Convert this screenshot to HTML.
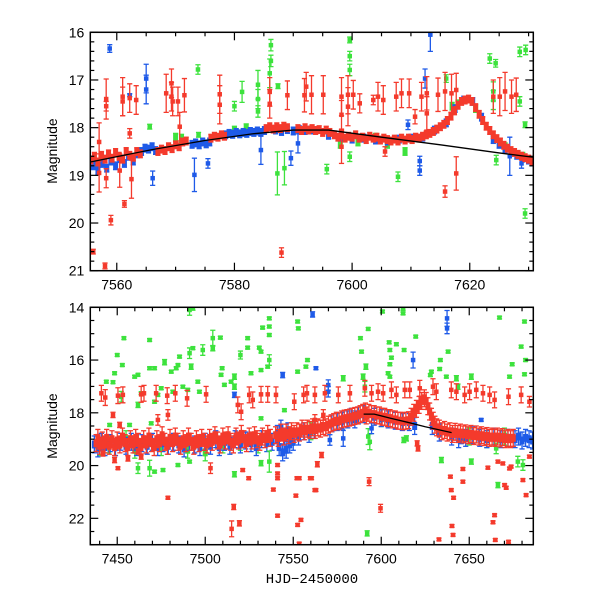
<!DOCTYPE html>
<html><head><meta charset="utf-8"><style>
html,body{margin:0;padding:0;background:#fff;}
svg{display:block;font-family:"Liberation Sans",sans-serif;}
</style></head><body>
<svg id="chart" width="600" height="600" viewBox="0 0 600 600" xmlns="http://www.w3.org/2000/svg">
<rect width="600" height="600" fill="#fff"/>
<g id="top-panel"></g>
<g id="bottom-panel"></g>
<text transform="translate(57,151) rotate(-90)" text-anchor="middle" font-size="14">Magnitude</text>
<text transform="translate(57,426) rotate(-90)" text-anchor="middle" font-size="14">Magnitude</text>
<text x="312" y="583" text-anchor="middle" font-size="14" font-family="Liberation Mono, monospace">HJD−2450000</text>
</svg>
<script>
// ---------- TOP PANEL DATA ----------
const topModel = [[7555.5,18.72],[7566,18.46],[7575,18.27],[7583,18.13],[7590,18.05],[7596,18.05],[7605,18.2],[7615,18.36],[7625,18.53],[7630.8,18.62]];
const topGreenBase = [[7570,18.2],[7571,18.22],[7580,18.05],[7582,18.0],[7598,18.35],[7601,18.3],[7604,18.2],[7606,18.35],[7609,18.5],[7617,17.55],[7618,17.5],[7621,17.6],[7626,18.4],[7629,18.6]];
const topBlueBase = [[7556,18.8],[7556.8,18.9],[7557.5,18.75],[7558.3,18.85],[7559,18.7],[7559.8,18.8],[7560.5,18.65],[7561.3,18.75],[7562,18.6],[7562.8,18.7],[7563.5,18.55],[7564.2,18.5],[7564.8,18.43],[7565.4,18.45],[7566,18.4],[7566.6,18.48],
[7572.8,18.35],[7573.4,18.32],[7574,18.36],[7574.6,18.3],[7575.2,18.34],[7575.8,18.3],
[7578.5,18.15],[7579.1,18.12],[7579.7,18.14],[7580.3,18.1],[7580.9,18.13],[7581.5,18.1],[7582.1,18.12],[7582.7,18.08],[7583.3,18.1],[7583.9,18.07],[7584.5,18.1],[7585.1,18.06],[7587,18.05],[7588,18.08],[7589,18.04],[7590,18.07],[7591,18.04],[7592,18.06],[7593,18.05],
[7596,18.16],[7598,18.2],[7600,18.24],[7602,18.22],[7604,18.26],[7606,18.28],[7608,18.24],[7610,18.22],[7612,18.2],[7614,18.05],[7616,17.9],[7617.5,17.6],[7619,17.42],[7620.5,17.45],[7622,17.78],
[7624,18.25],[7625,18.35],[7626,18.45],[7627,18.52],[7628,18.58],[7629,18.64],[7630,18.68],[7630.6,18.72]];
const topRedBase = [[7555.6,18.68],[7556.2,18.6],[7556.8,18.72],[7557.4,18.58],[7558,18.66],[7558.6,18.55],[7559.2,18.64],[7559.8,18.52],[7560.4,18.6],[7561,18.66],[7561.6,18.5],[7562.2,18.58],[7562.8,18.62],[7563.4,18.5],[7564,18.55],
[7567,18.5],[7567.6,18.45],[7568.2,18.48],[7568.8,18.4],[7569.4,18.44],[7570,18.36],[7570.6,18.4],[7571.2,18.3],[7571.8,18.28],
[7576,18.22],[7576.6,18.18],[7577.2,18.2],[7577.8,18.15],[7578.3,18.18],
[7585.4,18.02],[7586,17.98],[7586.6,18.03],[7587.2,17.98],[7587.8,18.02],[7588.4,17.97],[7589,18.0],
[7590.8,18.02],[7591.4,18.06],[7592,18.0],[7592.6,18.05],[7593.2,18.02],[7593.8,18.06],[7594.4,18.04],[7595,18.1],[7595.6,18.05],[7596.2,18.1],
[7597,18.15],[7597.6,18.2],[7598.2,18.15],[7598.8,18.22],[7599.4,18.18],[7600,18.2],[7600.6,18.15],[7601.2,18.22],[7601.8,18.2],[7602.4,18.25],[7603,18.18],[7603.6,18.22],[7604.2,18.2],[7604.8,18.26],[7605.4,18.22],[7606,18.25],[7606.6,18.28],[7607.2,18.24],[7607.8,18.28],[7608.4,18.22],[7609,18.26],[7609.6,18.22],[7610.2,18.25],[7610.8,18.2],[7611.4,18.22],[7612,18.18],[7612.6,18.15],[7613.2,18.12],[7613.8,18.08],[7614.4,18.03],[7615,17.98],[7615.6,17.93],[7616.2,17.85],[7616.8,17.76],[7617.4,17.65],[7618,17.53],[7618.6,17.45],[7619.2,17.42],[7619.8,17.4],[7620.4,17.45],[7621,17.58],[7621.6,17.72],[7622.2,17.85],[7622.8,17.97],[7623.4,18.06],[7624,18.15],[7624.6,18.23],[7625.2,18.3],[7625.8,18.37],[7626.4,18.43],[7627,18.48],[7627.6,18.52],[7628.2,18.56],[7628.8,18.6],[7629.4,18.63],[7630,18.66],[7630.6,18.7]];
const topGreenOut = [[7573.8,16.78,0.1],[7580,17.55,0.1],[7581.3,17.25,0.22],[7584,17.1,0.3],[7584,17.4,0.2],[7584,17.66,0.12],[7586.2,16.27,0.12],[7586.2,16.6,0.12],[7586,16.86,0.3],[7587.4,17.13,0.05],[7587.3,18.96,0.45],[7588.5,18.85,0.35],[7565.6,17.98,0.05],[7573.9,18.15,0.05],
[7599.6,16.16,0.06],[7599.6,16.5,0.1],[7599.6,16.79,0.12],[7623.4,16.55,0.1],[7624.4,16.65,0.08],[7628.5,16.41,0.1],[7629.5,16.37,0.1],[7624,17.24,0.2],[7624,17.42,0.2],[7616,16.97,0.08],[7629.4,17.94,0.06],[7628.5,17.45,0.1],[7595.7,18.87,0.1],[7607.8,19.03,0.1],[7629.4,19.8,0.1],[7624.5,18.68,0.1],[7599.6,18.61,0.1]];
const topBlueOut = [[7558.8,16.34,0.08],[7565,16.97,0.3],[7565,17.2,0.3],[7562.2,17.32,0.03],[7566.1,19.06,0.15],[7573.2,18.99,0.35],[7575.5,18.75,0.1],[7584.5,18.47,0.3],[7589.6,18.64,0.15],[7590.8,18.33,0.2],
[7613.3,16.05,0.35],[7612.4,16.97,0.2],[7611.5,18.7,0.1],[7611.5,18.9,0.1],[7609.5,17.94,0.1],[7626.8,18.6,0.4],[7628.8,18.75,0.1]];
const topRedOut = [[7558.2,17.4,0.42],[7558.2,17.55,0.1],[7561,17.35,0.4],[7561,17.45,0.3],[7562.2,17.38,0.3],[7563.3,17.42,0.3],[7568.4,17.28,0.4],[7569.3,17.07,0.3],[7569.3,17.35,0.3],[7569.5,17.45,0.3],[7570.4,17.45,0.3],[7571.5,17.32,0.35],[7570.7,17.98,0.3],[7577.5,17.3,0.4],[7577.5,17.52,0.4],[7586,17.25,0.3],[7586,17.5,0.3],[7589,17.32,0.3],[7591.9,17.32,0.35],[7592.2,17.14,0.3],
[7557,18.3,0.4],[7557,18.95,0.4],[7558.2,19.06,0.2],[7561.3,19.6,0.07],[7559,19.94,0.1],[7556,20.6,0.05],[7558,20.9,0.06],[7588,20.62,0.1],[7562.5,19.08,0.4],[7562.2,18.12,0.1],[7560.5,18.9,0.35],
[7593.1,17.31,0.4],[7595.1,17.31,0.4],[7598.2,17.35,0.4],[7598.2,17.73,0.3],[7599.3,17.31,0.4],[7599.3,17.56,0.4],[7600.2,17.31,0.3],[7601.3,17.49,0.2],[7603.6,17.42,0.1],[7604.4,17.35,0.3],[7605.3,17.42,0.3],[7607.5,17.35,0.3],[7608.4,17.28,0.3],[7609.7,17.28,0.3],[7610.7,17.77,0.15],[7611.8,17.35,0.3],[7612.7,17.28,0.35],[7612.7,17.7,0.35],[7614.6,17.31,0.35],[7615.8,17.24,0.4],[7616.9,17.28,0.4],[7617.7,17.21,0.35],[7624,17.35,0.35],[7625.1,17.35,0.4],[7626,17.24,0.4],[7627.1,17.35,0.35],[7627.9,17.31,0.35],
[7598.2,18.4,0.35],[7615.8,19.34,0.12],[7617.7,18.96,0.35],[7605.6,18.5,0.1]];

// ---------- BOTTOM PANEL DATA ----------
const botModel = [[7590,18.05],[7596,18.05],[7605,18.2],[7615,18.36],[7625,18.53],[7640,18.75]];
const botGreenBase = [[7440,19.3],[7445,19.2],[7460,19.4],[7475,19.3],[7490,19.4],[7510,19.2],[7530,19.2],[7560,18.7],[7600,18.2],[7650,18.9],[7660,19.0],[7670,18.9],[7455,19.0],[7500,19.5],[7520,19.1]];
const botGreenOut = [[7491.1,14.1,0.2],[7493,14.01,0.1],[7453.8,15.17,0.05],[7468.4,15.24,0.05],[7450,15.81,0.05],[7452.9,16.19,0.05],[7448.5,16.5,0.05],[7443.8,16.82,0.05],[7447.6,16.84,0.05],[7461.8,16.56,0.05],[7468.4,16.31,0.05],[7471.2,16.31,0.05],[7476.9,16.08,0.1],[7480.7,16.44,0.05],[7483.5,16.31,0.05],[7484.5,16.19,0.05],[7485.4,15.87,0.05],[7491.1,15.74,0.2],[7493,15.55,0.05],[7492,16.25,0.1],[7498.6,15.62,0.2],[7504.3,15.17,0.3],[7504.3,15.55,0.1],[7508.6,15.15,0.05],[7509.6,16.31,0.05],[7520,15.81,0.15],[7524.1,15.17,0.05],[7524.1,15.53,0.05],[7530.7,15.53,0.05],[7531.7,15.68,0.05],[7536.4,14.42,0.05],[7536.4,14.73,0.05],[7536.4,15.05,0.05],[7536.4,16.0,0.2],[7535.5,16.25,0.05],[7531.7,16.38,0.05],[7532.6,14.77,0.05],[7526,16.5,0.05],[7516.6,16.63,0.1],[7516.6,17.01,0.1],[7514.7,16.82,0.05],[7510.9,16.94,0.05],[7509,16.56,0.05],[7495.8,16.82,0.05],[7496.7,17.2,0.05],[7490.1,17.13,0.05],[7487.3,17.01,0.05],[7481.6,17.2,0.05],[7475,17.07,0.05],[7473.1,17.32,0.05],[7471.2,17.58,0.05],[7469.3,18.4,0.05],[7463.6,17.26,0.05],[7461.8,17.7,0.1],[7459.9,16.63,0.05],[7452.3,17.39,0.2],[7457,18.46,0.05],[7445.7,18.46,0.05],[7461.8,20.1,0.2],[7468.4,20.1,0.3],[7471.2,20.23,0.05],[7476,20.17,0.05],[7484.5,19.98,0.05],[7491.1,19.85,0.05],[7516.6,20.33,0.1],[7531.7,19.91,0.1],[7536.4,19.85,0.4],[7552.5,14.54,0.05],[7552.9,14.8,0.05],[7557.2,16.25,0.05],[7558.1,16.0,0.05],[7552.5,16.44,0.05],[7545,17.9,0.05],[7531.7,18.21,0.05],
[7600.7,14.16,0.05],[7612.4,14.06,0.05],[7612.4,14.23,0.05],[7592.6,14.82,0.05],[7588.2,15.17,0.05],[7588.8,15.68,0.05],[7604.5,15.33,0.05],[7604.9,15.62,0.05],[7608.6,15.4,0.05],[7605.8,15.91,0.05],[7604.9,16.16,0.05],[7619.6,15.11,0.05],[7613,15.62,0.05],[7603.9,16.5,0.05],[7604.9,16.63,0.05],[7591.3,16.25,0.1],[7589.7,16.63,0.1],[7578.4,16.69,0.1],[7590.7,17.01,0.2],[7628.5,16.44,0.05],[7627.9,16.57,0.05],[7633.6,16.0,0.05],[7638,15.68,0.05],[7637,16.63,0.05],[7642.7,16.69,0.1],[7633.2,16.34,0.05],[7651.2,16.63,0.1],[7667.2,14.39,0.05],[7681.4,14.54,0.05],[7679.5,15.49,0.05],[7682,16.0,0.05],[7674.4,16.16,0.05],[7672.9,16.63,0.05],[7681.4,16.54,0.05],[7592.6,18.9,0.3],[7593.5,19.1,0.3],[7612.8,19.03,0.1],[7634.2,19.79,0.1],[7651.2,19.85,0.1],[7666.3,20.74,0.1],[7592,22.57,0.1],[7677.6,19.85,0.2],[7680.5,19.98,0.2],[7665.3,19.35,0.2],[7672.9,18.97,0.1],[7643.6,17.01,0.1],[7614.3,18.97,0.1]];
const botBlueBase = [[7437,19.2],[7439,19.35],[7441,19.1],[7443,19.3],[7446,19.15],[7449,19.3],[7452,19.1],[7455,19.25],[7458,19.1],[7461,19.3],[7464,19.15],[7467,19.25],[7470,19.1],[7473,19.3],[7476,19.15],[7479,19.25],[7482,19.1],[7485,19.2],[7488,19.35],[7491,19.1],[7494,19.2],[7497,19.3],[7500,19.1],[7503,19.25],[7506,19.0],[7508,19.3],[7511,19.1],[7514,19.25],[7517,19.0],[7520,19.2],[7523,19.05],[7526,19.15],[7529,19.3],[7532,19.0],[7535,19.15],[7538,19.1],[7541,18.8],[7542,19.3],[7543,18.6],[7544,19.5],[7545,18.9],[7546,19.4],[7547,18.7],[7548,19.2],[7549,18.9],[7550,19.1],[7553,18.9],[7556,18.7],[7559,18.8],[7562,18.65],[7572,18.4],[7575,18.35],[7578,18.3],[7581,18.25],[7583,18.15],[7585,18.25],[7587,18.1],[7590,18.05],[7596,18.15],[7600,18.2],[7604,18.25],[7608,18.3],[7612,18.35],[7616,18.35],[7619,18.5],[7629,18.5],[7633,18.75],[7640,18.9],[7644,19.0],[7648,18.95],[7652,18.85],[7656,18.95],[7660,19.0],[7664,18.9],[7668,19.0],[7672,18.95],[7676,19.0],[7678,18.9],[7680,19.05],[7682,18.95],[7684,19.0],[7686,19.05]];
const botBlueOut = [[7561,14.27,0.1],[7562.9,16.31,0.05],[7544,16.57,0.1],[7516.6,17.32,0.1],[7637.4,14.42,0.3],[7637.4,14.8,0.2],[7618.1,16.0,0.3],[7569.9,16.95,0.2],[7569.9,17.2,0.2],[7578.4,18.97,0.3],[7570.8,19.03,0.2],[7656.8,18.27,0.05],[7594.5,18.59,0.2],[7645.5,18.97,0.2]];
const botRedBase = [[7438,19.15],[7439,18.95],[7440,19.25],[7441.5,19.05],[7443,19.2],[7444,18.95],[7445.5,19.25],[7447,19.0],[7448.5,19.3],[7450,19.05],[7451.5,19.2],[7453,18.9],[7454.5,19.15],[7456,19.3],[7457.5,19.0],[7459,19.2],[7460.5,18.95],[7462,19.1],[7463.5,19.3],[7465,19.0],[7466.5,19.2],[7468,18.9],[7469.5,19.15],[7471,19.3],[7472.5,19.0],[7474,19.15],[7475.5,18.85],[7477,19.1],[7478.5,19.25],[7480,18.95],[7481.5,19.15],[7483,18.9],[7484.5,19.1],[7486,19.25],[7487.5,19.0],[7489,19.15],[7490.5,18.9],[7492,19.1],[7493.5,19.25],[7495,19.0],[7496.5,19.15],[7498,18.95],[7499.5,19.1],[7501,19.2],[7502.5,18.95],[7504,19.1],[7505.5,18.85],[7507,19.05],[7508.5,19.2],[7510,18.9],[7511.5,19.05],[7513,18.85],[7514.5,19.1],[7516,19.2],[7517.5,18.9],[7519,19.05],[7520.5,18.8],[7522,19.0],[7523.5,19.15],[7525,18.9],[7526.5,19.05],[7528,18.85],[7529.5,19.0],[7531,19.1],[7532.5,18.9],[7534,19.0],[7535.5,18.8],[7537,18.95],[7540,18.85],[7541.5,18.95],[7543,18.75],[7544.5,18.9],[7546,18.75],[7547.5,18.85],[7549,18.7],[7550.5,18.8],[7552,18.7],[7553.5,18.75],[7555,18.6],[7556.5,18.7],[7558,18.6],[7559.5,18.65],[7561,18.55],[7562.5,18.65],[7564,18.55],[7565.5,18.6],[7567,18.5],[7568.5,18.55],[7570,18.45],[7571.5,18.4],[7573,18.35],[7574.5,18.3],[7576,18.32],[7577.5,18.25],[7579,18.22],[7580.5,18.2],[7582,18.18],[7583.5,18.15],[7585,18.12],[7586.5,18.1],[7588,18.05],[7589.5,18.0],[7591,17.95],[7591.5,18.1],[7593,18.0],[7594.5,18.05],[7596,18.05],[7597.5,18.1],[7599,18.1],[7600.5,18.15],[7602,18.15],[7603.5,18.2],[7605,18.2],[7606.5,18.25],[7608,18.25],[7609.5,18.3],[7611,18.3],[7612.5,18.32],[7614,18.3],[7615.5,18.28],[7617,18.15],[7618.5,18.0],[7620,17.85],[7621.5,17.7],[7623,17.55],[7624.5,17.45],[7625.5,17.55],[7626.5,17.75],[7627.5,17.95],[7628.5,18.15],[7629.5,18.3],[7630.5,18.45],[7631.5,18.55],[7633,18.6],[7634.5,18.7],[7636,18.65],[7637.5,18.75],[7639,18.7],[7640.5,18.8],[7642,18.72],[7643.5,18.8],[7645,18.75],[7646.5,18.82],[7648,18.78],[7649.5,18.85],[7651,18.8],[7652.5,18.88],[7654,18.82],[7655.5,18.9],[7657,18.85],[7658.5,18.92],[7660,18.88],[7661.5,18.95],[7663,18.9],[7664.5,18.95],[7666,18.9],[7667.5,18.97],[7669,18.92],[7670.5,19.0],[7672,18.95],[7673.5,19.0],[7675,18.95]];
const botRedOut = [[7441,17.26,0.3],[7443.2,17.42,0.3],[7450.4,17.35,0.3],[7453.2,17.32,0.3],[7463.6,17.3,0.3],[7465.2,17.26,0.3],[7472.1,17.26,0.3],[7478.4,17.35,0.3],[7483,17.26,0.3],[7489.7,17.45,0.3],[7500.5,17.3,0.3],[7525,17.32,0.3],[7527,17.51,0.3],[7531.7,17.3,0.3],[7535.5,17.3,0.3],[7540.2,17.32,0.3],[7550.6,17.58,0.3],[7555.9,17.32,0.3],[7557.8,17.26,0.3],[7518.5,17.7,0.3],[7520.4,17.96,0.3],[7447.6,18.08,0.1],[7451.4,18.46,0.1],[7473.1,18.27,0.2],[7478.8,18.08,0.2],
[7450.4,20.1,0.05],[7456.1,19.73,0.1],[7463.6,19.66,0.1],[7478.8,21.22,0.05],[7503,20.1,0.2],[7516.2,21.57,0.1],[7519.4,22.19,0.1],[7515,22.4,0.3],[7521.3,20.17,0.05],[7524.7,20.48,0.05],[7541.1,19.98,0.05],[7541.1,20.3,0.05],[7541.1,20.48,0.05],[7538.7,20.91,0.05],[7541.1,21.9,0.05],[7552.1,20.48,0.05],[7553.4,20.48,0.05],[7551.5,21.14,0.05],[7554.4,22.06,0.05],[7552.5,22.25,0.05],[7553.4,22.96,0.05],[7559.7,20.48,0.05],[7562.3,20.93,0.05],[7461.8,19.47,0.1],[7448.5,19.79,0.1],[7441.9,19.54,0.1],
[7562.3,17.32,0.3],[7568,17.26,0.3],[7575.6,17.32,0.3],[7582.2,17.26,0.3],[7590.7,17.07,0.3],[7594.5,17.26,0.3],[7598.2,17.2,0.3],[7601.1,17.26,0.3],[7605.8,17.13,0.3],[7608.6,17.32,0.3],[7613.4,17.13,0.3],[7616.2,17.13,0.3],[7621.9,17.07,0.3],[7629.4,17.01,0.3],[7631.3,17.2,0.3],[7639.8,17.13,0.3],[7642.7,17.2,0.3],[7647.4,17.32,0.3],[7650.2,17.2,0.3],[7654,17.13,0.3],[7657.8,17.26,0.3],[7661.6,17.32,0.3],[7664.4,17.51,0.3],[7672.3,17.39,0.3],[7679.5,17.32,0.3],[7684.2,17.58,0.2],[7562.3,18.27,0.2],[7567.1,18.08,0.2],[7620.9,19.35,0.1],[7620.4,19.16,0.1],
[7560.4,20.48,0.05],[7562.9,20.93,0.05],[7563.7,19.95,0.1],[7566.1,19.6,0.1],[7593.1,20.61,0.15],[7599.6,21.62,0.15],[7639.3,20.42,0.05],[7646.4,20.61,0.05],[7639.8,20.93,0.05],[7641.1,21.22,0.05],[7640.2,22.29,0.05],[7640.8,22.63,0.05],[7632.8,22.8,0.05],[7646.4,20.13,0.05],[7660.6,20.08,0.05],[7664.4,21.88,0.05],[7663.5,22.15,0.05],[7664.8,22.82,0.05],[7672.3,22.89,0.05],[7666.3,19.85,0.05],[7670.1,20.74,0.05],[7671,20.84,0.05],[7682.3,21.12,0.05],[7680.5,20.55,0.05],[7672.9,20.11,0.05],[7669.1,19.92,0.05],[7673.8,20.04,0.05],[7684.2,19.66,0.05]];

const topXTicks = [7560,7580,7600,7620];
const topYTicks = [16,17,18,19,20,21];
const botXTicks = [7450,7500,7550,7600,7650];
const botYTicks = [14,16,18,20,22];

const RED="#f43a2c", BLUE="#1e5ae8", GREEN="#3de23d";
const NS="http://www.w3.org/2000/svg";
function mk(tag, attrs, parent){const e=document.createElementNS(NS,tag);for(const k in attrs)e.setAttribute(k,attrs[k]);parent.appendChild(e);return e;}

function panel(g, cfg){
  const L=90.3,R=533.3,T=cfg.top,B=cfg.bottom;
  const sx=t=>L+(t-cfg.x0)/(cfg.x1-cfg.x0)*(R-L);
  const sy=m=>T+(m-cfg.y0)/(cfg.y1-cfg.y0)*(B-T);
  const clip=mk('clipPath',{id:cfg.id+'-clip'},g);
  mk('rect',{x:L,y:T,width:R-L,height:B-T},clip);
  const plot=mk('g',{'clip-path':'url(#'+cfg.id+'-clip)'},g);
  
  
  function series(data, color, name, err, w, h){
    const sg=mk('g',{fill:color,stroke:color},plot);
    
    
    data.forEach(d=>{
      const x=sx(d[0]), y=sy(d[1]), e=(d.length>2?d[2]:err);
      if(e>0){
        const y1=sy(d[1]-e), y2=sy(d[1]+e);
        mk('line',{x1:x,x2:x,y1:y1,y2:y2,'stroke-width':1.3},sg);
        mk('line',{x1:x-2.6,x2:x+2.6,y1:y1,y2:y1,'stroke-width':1.3},sg);
        mk('line',{x1:x-2.6,x2:x+2.6,y1:y2,y2:y2,'stroke-width':1.3},sg);
      }
      const c=mk('rect',{x:x-w/2,y:y-h/2,width:w,height:h,stroke:'none'},sg);
      
      
    });
  }
  series(cfg.gb, GREEN, cfg.id+'-green-baseline', cfg.be, cfg.bw, cfg.bh);
  series(cfg.bb, BLUE, cfg.id+'-blue-baseline', cfg.be, cfg.bw, cfg.bh);
  series(cfg.go, GREEN, cfg.id+'-green-outliers', 0, 4.5, 4.5);
  series(cfg.bo, BLUE, cfg.id+'-blue-outliers', 0, 4.5, 4.5);
  series(cfg.rb, RED, cfg.id+'-red-baseline', cfg.be, cfg.bw, cfg.bh);
  series(cfg.ro, RED, cfg.id+'-red-outliers', 0, 4.5, 4.5);
  const ml=mk('polyline',{points:cfg.model.map(p=>sx(p[0])+','+sy(p[1])).join(' '),fill:'none',stroke:'#000','stroke-width':1.3},plot);
  
  
  const fr=mk('rect',{x:L,y:T,width:R-L,height:B-T,fill:'none',stroke:'#000','stroke-width':1.5},g);
  
  
  const tg=mk('g',{stroke:'#000','stroke-width':1.2},g);
  
  
  for(let t=Math.ceil(cfg.x0/cfg.xm)*cfg.xm;t<=cfg.x1;t+=cfg.xm){
    const major=Math.abs(t/cfg.xM-Math.round(t/cfg.xM))<1e-6, len=major?8:4, x=sx(t);
    mk('line',{x1:x,x2:x,y1:B,y2:B-len},tg);mk('line',{x1:x,x2:x,y1:T,y2:T+len},tg);
  }
  for(let m=cfg.y0;m<=cfg.y1+1e-6;m+=cfg.ym){
    const major=Math.abs(m/cfg.yM-Math.round(m/cfg.yM))<1e-6, len=major?8:4, y=sy(m);
    mk('line',{x1:L,x2:L+len,y1:y,y2:y},tg);mk('line',{x1:R,x2:R-len,y1:y,y2:y},tg);
  }
  cfg.xt.forEach(t=>{const tx=mk('text',{x:sx(t),y:B+19,'text-anchor':'middle','font-size':14},g);tx.textContent=t;
    
    });
  cfg.yt.forEach(m=>{const tx=mk('text',{x:L-6,y:sy(m)+5,'text-anchor':'end','font-size':14},g);tx.textContent=m;
    
    });
}
panel(document.getElementById('top-panel'),{id:'top',top:32.3,bottom:270.7,x0:7555.5,x1:7630.8,y0:16,y1:21,xm:5,xM:20,ym:0.2,yM:1,
  xt:topXTicks,yt:topYTicks,model:topModel,gb:topGreenBase,bb:topBlueBase,rb:topRedBase,go:topGreenOut,bo:topBlueOut,ro:topRedOut,be:0.08,bw:5,bh:7});
panel(document.getElementById('bottom-panel'),{id:'bottom',top:307.3,bottom:544.7,x0:7434.7,x1:7686.4,y0:14,y1:23,xm:10,xM:50,ym:0.5,yM:2,
  xt:botXTicks,yt:botYTicks,model:botModel,gb:botGreenBase,bb:botBlueBase,rb:botRedBase,go:botGreenOut,bo:botBlueOut,ro:botRedOut,be:0.32,bw:5,bh:8});
</script>
</body></html>
